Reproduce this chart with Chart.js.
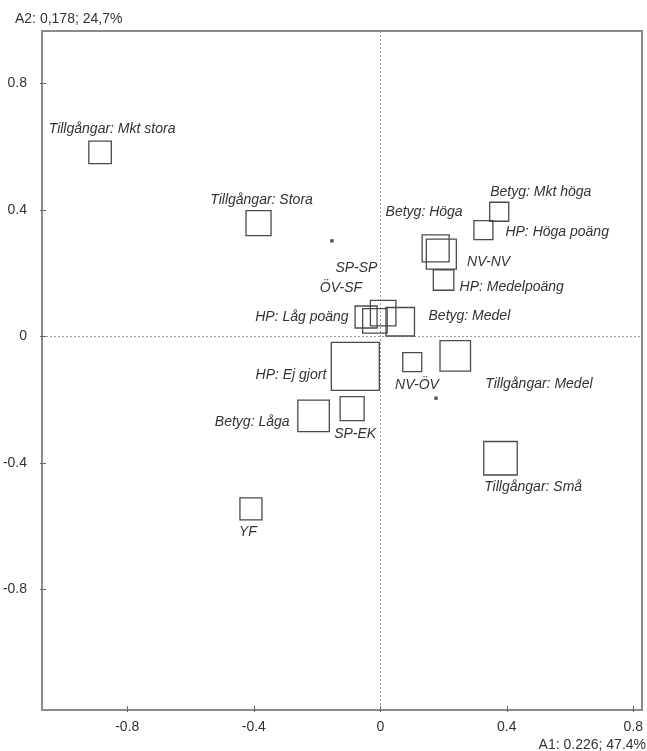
<!DOCTYPE html>
<html>
<head>
<meta charset="utf-8">
<script src="https://cdn.jsdelivr.net/npm/chart.js@4.4.0/dist/chart.umd.min.js"></script>
<style>
  html, body { margin: 0; padding: 0; background: #fff; }
  #wrap { width: 647px; height: 751px; }
</style>
</head>
<body>
<div id="wrap"><canvas id="caPlot" width="647" height="751"></canvas></div>
<script>
// category coordinates on the first two axes (A1, A2)
const categories = [
  "Tillgångar: Mkt stora", "Tillgångar: Stora", "Betyg: Mkt höga", "HP: Höga poäng",
  "Betyg: Höga", "NV-NV", "HP: Medelpoäng", "HP: Låg poäng", "SP-SP", "ÖV-SF",
  "Betyg: Medel", "HP: Ej gjort", "NV-ÖV", "Tillgångar: Medel", "Betyg: Låga",
  "SP-EK", "Tillgångar: Små", "YF", "", ""
];
const dim1 = [
  -0.886, -0.385, 0.376, 0.326,
  0.175, 0.193, 0.200, -0.045, 0.009, -0.017,
  0.063, -0.079, 0.101, 0.237, -0.211,
  -0.089, 0.380, -0.409, -0.153, 0.176
];
const dim2 = [
  0.582, 0.358, 0.394, 0.336,
  0.278, 0.260, 0.178, 0.061, 0.073, 0.049,
  0.046, -0.095, -0.082, -0.062, -0.252,
  -0.229, -0.386, -0.546, 0.302, -0.196
];
// relative weight of each category (drawn as square side)
const weights = [
  22.5, 25, 19, 19,
  27, 30, 20.5, 22, 25.5, 24.5,
  28.5, 48, 19, 30.5, 31.5,
  24, 33.5, 22, 2, 2
];
const xTickValues = [-0.8, -0.4, 0, 0.4, 0.8];
const yTickValues = [0.8, 0.4, 0, -0.4, -0.8];
const xAxisTitle = "A1: 0.226; 47.4%";
const yAxisTitle = "A2: 0,178; 24,7%";

// label placement relative to each square: [dx, dy, align]
const labelPlace = [
  [12, -23.5, "center"], [3, -23, "center"], [-9, -20, "left"], [22, 2.5, "left"],
  [27, -36, "right"], [25.7, 7.5, "left"], [16, 6.7, "left"], [-17.5, -0.3, "right"],
  [-5.7, -45, "right"], [-12.8, -33, "right"],
  [28.3, -5.7, "left"], [-29, 8.8, "right"], [4.7, 22.8, "center"], [30, 28.5, "left"],
  [-24, 6, "right"], [3, 25.3, "center"], [-16.3, 28.4, "left"], [-3, 23, "center"],
  [0, 0, "center"], [0, 0, "center"]
];

const FONT = '"Liberation Sans", Arial, sans-serif';
const AXIS_GREY = "#8a8a8a";
const TEXT = "#333";

const frameAndLabels = {
  id: "frameAndLabels",
  beforeDatasetsDraw(chart) {
    const { ctx, chartArea: a, scales: { x, y } } = chart;
    ctx.save();
    // dotted zero lines
    ctx.strokeStyle = "#9a9a9a";
    ctx.lineWidth = 1;
    ctx.setLineDash([2, 2]);
    const x0 = Math.round(x.getPixelForValue(0)) + 0.5;
    const y0 = Math.round(y.getPixelForValue(0)) + 0.5;
    ctx.beginPath();
    ctx.moveTo(x0, a.top); ctx.lineTo(x0, a.bottom);
    ctx.moveTo(a.left, y0); ctx.lineTo(a.right, y0);
    ctx.stroke();
    ctx.setLineDash([]);
    // frame
    ctx.strokeStyle = AXIS_GREY;
    ctx.lineWidth = 2;
    ctx.strokeRect(a.left, a.top, a.width, a.height);
    // short tick marks crossing the axes
    ctx.lineWidth = 1;
    ctx.strokeStyle = "#666";
    ctx.beginPath();
    xTickValues.forEach(v => {
      const px = Math.round(x.getPixelForValue(v)) + 0.5;
      ctx.moveTo(px, a.bottom - 4); ctx.lineTo(px, a.bottom + 2);
    });
    yTickValues.forEach(v => {
      const py = Math.round(y.getPixelForValue(v)) + 0.5;
      ctx.moveTo(a.left - 2, py); ctx.lineTo(a.left + 4, py);
    });
    ctx.stroke();
    ctx.restore();
  },
  afterDatasetsDraw(chart) {
    const { ctx } = chart;
    const meta = chart.getDatasetMeta(0);
    ctx.save();
    ctx.fillStyle = TEXT;
    ctx.textBaseline = "middle";
    ctx.font = "italic 14px " + FONT;
    categories.forEach((name, i) => {
      if (!name) return;
      const el = meta.data[i];
      const [dx, dy, align] = labelPlace[i];
      ctx.textAlign = align;
      ctx.fillText(name, el.x + dx, el.y + dy);
    });
    ctx.font = "14px " + FONT;
    ctx.textAlign = "left";
    ctx.fillText(yAxisTitle, 15, 19);
    ctx.textAlign = "right";
    ctx.fillText(xAxisTitle, 646, 745);
    ctx.restore();
  }
};

const side = i => weights[i];

new Chart(document.getElementById("caPlot").getContext("2d"), {
  type: "scatter",
  data: {
    labels: categories,
    datasets: [{
      data: categories.map((c, i) => ({ x: dim1[i], y: dim2[i] })),
      pointStyle: "rect",
      pointRadius: ctx => side(ctx.dataIndex) / Math.SQRT2,
      pointHoverRadius: ctx => side(ctx.dataIndex) / Math.SQRT2,
      pointBorderColor: "#4a4a4a",
      pointBorderWidth: 1.3,
      pointBackgroundColor: ctx => side(ctx.dataIndex) < 4 ? "#555" : "rgba(0,0,0,0)",
      showLine: false
    }]
  },
  plugins: [frameAndLabels],
  options: {
    responsive: false,
    animation: false,
    events: [],
    devicePixelRatio: 1,
    layout: {
      autoPadding: false,
      padding: { top: 31, right: 5, bottom: 0, left: 0 }
    },
    plugins: {
      legend: { display: false },
      tooltip: { enabled: false }
    },
    scales: {
      x: {
        type: "linear",
        min: -1.0696,
        max: 0.8274,
        grid: { display: false },
        border: { display: false },
        afterBuildTicks: s => { s.ticks = xTickValues.map(v => ({ value: v })); },
        afterFit: s => {
          s.height = 41;
          s.paddingLeft = 0; s.paddingRight = 0;
        },
        ticks: {
          padding: 1,
          color: TEXT,
          font: { family: FONT, size: 14 },
          maxRotation: 0,
          callback: v => String(v)
        }
      },
      y: {
        type: "linear",
        min: -1.1826,
        max: 0.966,
        grid: { display: false },
        border: { display: false },
        afterBuildTicks: s => { s.ticks = yTickValues.map(v => ({ value: v })); },
        afterFit: s => {
          s.width = 42;
          s.paddingTop = 0; s.paddingBottom = 0;
        },
        ticks: {
          padding: 7,
          color: TEXT,
          font: { family: FONT, size: 14 },
          callback: v => String(v)
        }
      }
    }
  }
});
</script>
</body>
</html>
